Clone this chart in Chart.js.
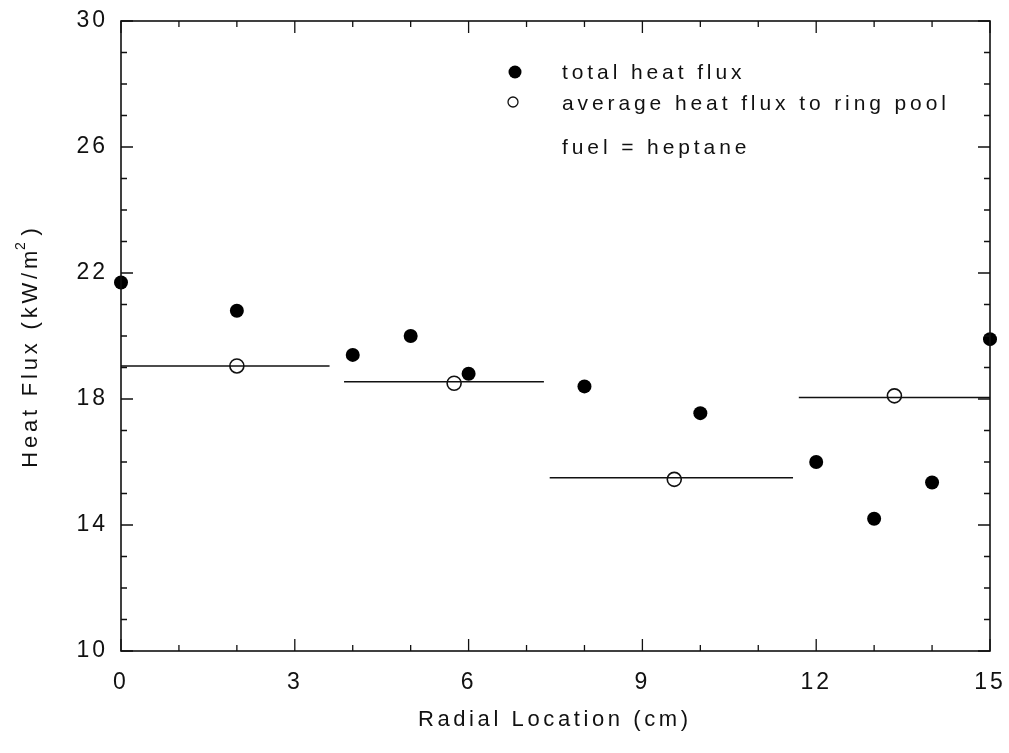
<!DOCTYPE html>
<html>
<head>
<meta charset="utf-8">
<script src="https://cdn.jsdelivr.net/npm/chart.js@4.4.0/dist/chart.umd.min.js"></script>
<style>
  html, body { margin: 0; padding: 0; background: #fff; }
  #wrap { width: 1009px; height: 753px; }
</style>
</head>
<body>
<div id="wrap"><canvas id="myChart"></canvas></div>
<script>
// total heat flux (filled dots)
const totalX = [0, 2, 4, 5, 6, 8, 10, 12, 13, 14, 15];
const totalY = [21.7, 20.8, 19.4, 20.0, 18.8, 18.4, 17.55, 16.0, 14.2, 15.35, 19.9];

// average heat flux to ring pool (open circles)
const avgX = [2, 5.75, 9.55, 13.35];
const avgY = [19.05, 18.5, 15.45, 18.1];

// ring pool extents for the average lines
const ringStart = [0, 3.85, 7.4, 11.7];
const ringEnd = [3.6, 7.3, 11.6, 15];
const ringValue = [19.05, 18.55, 15.5, 18.05];

const xTicks = [0, 3, 6, 9, 12, 15];
const yTicks = [10, 14, 18, 22, 26, 30];

const legendLabels = ["total heat flux", "average heat flux to ring pool", "fuel = heptane"];

const FONT = "'Liberation Sans', Arial, Helvetica, sans-serif";

const ctx = document.getElementById("myChart").getContext("2d");

const datasets = [];

for (let i = 0; i < ringStart.length; i++) {
  datasets.push({
    type: "line",
    data: [
      { x: ringStart[i], y: ringValue[i] },
      { x: ringEnd[i], y: ringValue[i] },
    ],
    borderColor: "#111",
    borderWidth: 1.6,
    pointRadius: 0,
    fill: false,
    clip: false,
  });
}

datasets.push({
  type: "scatter",
  data: avgX.map((x, i) => ({ x: x, y: avgY[i] })),
  pointRadius: 7,
  pointBorderWidth: 1.6,
  pointBorderColor: "#111",
  pointBackgroundColor: "#fff",
  clip: false,
});

datasets.push({
  type: "scatter",
  data: totalX.map((x, i) => ({ x: x, y: totalY[i] })),
  pointRadius: 7,
  pointBorderWidth: 0,
  pointBackgroundColor: "#000",
  clip: false,
});

// spaced text like the old typewriter figure
function drawText(c, text, x, y, size, spacing, align) {
  c.save();
  c.font = size + "px " + FONT;
  c.letterSpacing = spacing + "px";
  c.fillStyle = "#111";
  c.textBaseline = "middle";
  let w = c.measureText(text).width - spacing;
  let sx = x;
  if (align === "center") sx = x - w / 2;
  c.textAlign = "left";
  c.fillText(text, sx, y);
  c.restore();
}

const paperPlugin = {
  id: "paper",
  beforeDraw(chart) {
    chart.ctx.letterSpacing = "3px";
  },
  afterDraw(chart) {
    const c = chart.ctx;
    const a = chart.chartArea;
    const xs = chart.scales.x;
    const ys = chart.scales.y;

    c.save();
    c.strokeStyle = "#111";
    c.lineWidth = 1.6;
    c.strokeRect(a.left, a.top, a.right - a.left, a.bottom - a.top);

    // inward ticks on all four sides
    c.lineWidth = 1.3;
    c.beginPath();
    for (let v = 0; v <= 15; v++) {
      let px = xs.getPixelForValue(v);
      let len = v % 3 === 0 ? 12 : 6;
      c.moveTo(px, a.bottom);
      c.lineTo(px, a.bottom - len);
      c.moveTo(px, a.top);
      c.lineTo(px, a.top + len);
    }
    for (let v = 10; v <= 30; v++) {
      let py = ys.getPixelForValue(v);
      let len = (v - 10) % 4 === 0 ? 12 : 6;
      c.moveTo(a.left, py);
      c.lineTo(a.left + len, py);
      c.moveTo(a.right, py);
      c.lineTo(a.right - len, py);
    }
    c.stroke();
    c.restore();

    // axis titles
    drawText(c, "Radial Location (cm)", 553, 720, 22, 3.6, "center");

    c.save();
    c.translate(31, 346);
    c.rotate(-Math.PI / 2);
    c.font = "22px " + FONT;
    c.letterSpacing = "3.8px";
    c.fillStyle = "#111";
    c.textBaseline = "middle";
    let t1 = "Heat Flux (kW/m";
    let w1 = c.measureText(t1).width;
    c.font = "14px " + FONT;
    let w2 = c.measureText("2").width;
    c.font = "22px " + FONT;
    let w3 = c.measureText(")").width;
    let start = -(w1 + w2 + w3) / 2;
    c.fillText(t1, start, 0);
    c.font = "14px " + FONT;
    c.fillText("2", start + w1 - 3, -10);
    c.font = "22px " + FONT;
    c.fillText(")", start + w1 + w2, 0);
    c.restore();

    // legend
    c.save();
    c.fillStyle = "#000";
    c.beginPath();
    c.arc(515, 72, 6.5, 0, Math.PI * 2);
    c.fill();
    c.strokeStyle = "#111";
    c.lineWidth = 1.3;
    c.beginPath();
    c.arc(513, 102, 5, 0, Math.PI * 2);
    c.stroke();
    c.restore();
    drawText(c, legendLabels[0], 562, 73, 21, 3.9, "left");
    drawText(c, legendLabels[1], 562, 104, 21, 3.9, "left");
    drawText(c, legendLabels[2], 562, 148, 21, 3.9, "left");
  },
};

const config = {
  data: { datasets: datasets },
  options: {
    responsive: true,
    maintainAspectRatio: false,
    animation: false,
    layout: {
      padding: { left: 0, right: 19, top: 21, bottom: 0 },
    },
    scales: {
      x: {
        type: "linear",
        min: 0,
        max: 15,
        afterFit(scale) {
          scale.height = 102;
          scale.paddingLeft = 0;
          scale.paddingRight = 0;
        },
        afterBuildTicks(scale) { scale.ticks = xTicks.map(v => ({ value: v })); },
        border: { display: false },
        grid: { display: false, drawTicks: false },
        ticks: {
          padding: 18,
          color: "#111",
          font: { family: FONT, size: 23 },
          maxRotation: 0,
        },
      },
      y: {
        type: "linear",
        min: 10,
        max: 30,
        afterFit(scale) {
          scale.width = 121;
          scale.paddingTop = 0;
          scale.paddingBottom = 0;
        },
        afterBuildTicks(scale) { scale.ticks = yTicks.map(v => ({ value: v })); },
        border: { display: false },
        grid: { display: false, drawTicks: false },
        ticks: {
          padding: 13,
          color: "#111",
          font: { family: FONT, size: 23 },
        },
      },
    },
    plugins: {
      legend: { display: false },
      tooltip: { enabled: false },
      title: { display: false },
    },
  },
  plugins: [paperPlugin],
};

const myChart = new Chart(ctx, config);
</script>
</body>
</html>
